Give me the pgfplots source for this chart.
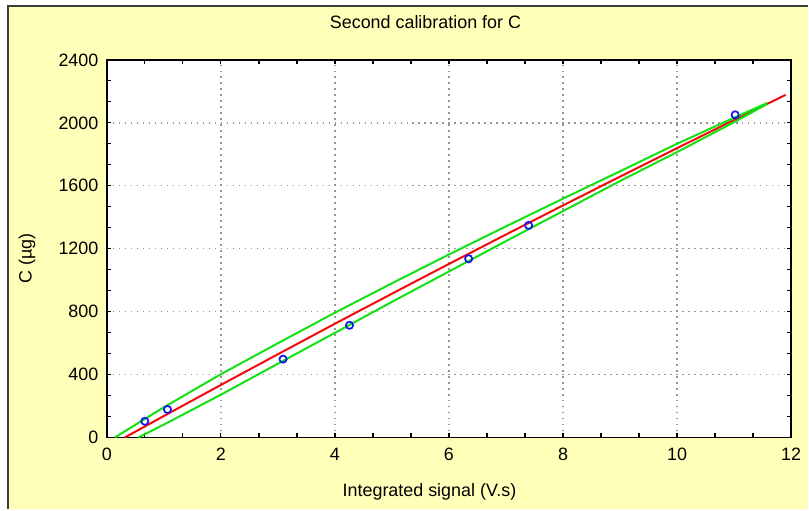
\documentclass[border=0pt]{standalone}
\usepackage{pgfplots}
\pgfplotsset{compat=1.18}
\usepackage{fontspec}
\setmainfont{Liberation Sans}
\definecolor{bgyellow}{RGB}{255,255,185}
\definecolor{framegray}{RGB}{60,60,60}
\definecolor{gridgray}{RGB}{150,150,150}
\definecolor{fitred}{RGB}{245,10,10}
\definecolor{bandgreen}{RGB}{20,225,20}
\definecolor{ptblue}{RGB}{20,20,240}
\begin{document}
\begin{tikzpicture}[x=1bp,y=1bp]
\fill[bgyellow] (0,0) rectangle (809,510);
\fill[white] (0,0) rectangle (7.3,510);
\fill[white] (0,505) rectangle (809,510);
\draw[line width=2bp, framegray] (8.3,0) -- (8.3,504) -- (809,504);
\begin{axis}[
  at={(107bp,72bp)}, anchor=south west,
  scale only axis, width=685bp, height=378bp,
  xmin=0, xmax=12, ymin=0, ymax=2400,
  xtick={0,2,...,12}, ytick={0,400,...,2400},
  minor tick num=2,
  tick pos=both, tick align=inside,
  major tick length=4bp, minor tick length=4bp,
  every tick/.style={black, line width=1.2bp},
  axis line style={black, line width=1.8bp},
  axis background/.style={fill=white},
  grid=major,
  major grid style={gridgray, line width=1.4bp, dash pattern=on 1.4bp off 4.6bp},
  /pgf/number format/1000 sep={},
  /pgf/number format/assume math mode=true,
  ticklabel style={font=\fontsize{18}{21}\selectfont},
  xticklabel style={yshift=-7bp},
  yticklabel style={xshift=-5bp},
  title={Second calibration for C},
  title style={at={(axis description cs:0.4657,1.0847)}, anchor=center, font=\fontsize{18}{21}\selectfont},
  xlabel={Integrated signal (V.s)},
  xlabel style={at={(axis description cs:0.4715,-0.1429)}, anchor=center, font=\fontsize{18}{21}\selectfont},
  ylabel={C (µg)},
  ylabel style={at={(axis description cs:-0.1168,0.4735)}, anchor=center, font=\fontsize{18}{21}\selectfont},
]
% fitted curve
\addplot[fitred, line width=2bp] coordinates {
 (0.315,0) (1,136.5) (2,334) (3,529) (4,723) (5,914) (6,1103) (7,1290)
 (8,1475) (9,1658) (10,1839) (11,2018) (11.5,2106) (11.905,2178)
};
% upper band
\addplot[bandgreen, line width=2bp] coordinates {
 (0.14,0) (1,192) (2,402) (3,599) (4,793) (5,980) (6,1163) (7,1342)
 (8,1518) (9,1692) (10,1867) (11,2032) (11.58,2126)
};
% lower band
\addplot[bandgreen, line width=2bp] coordinates {
 (0.55,0) (1,82) (2,272) (3,469) (4,665) (5,862) (6,1055) (7,1248)
 (8,1439) (9,1630) (10,1814) (11,2004) (11.58,2120)
};
% observations
\addplot[only marks, mark=o, mark size=3.6bp, ptblue, line width=1.7bp] coordinates {
 (0.666,103) (1.063,178) (3.09,498) (4.256,713) (6.345,1136) (7.397,1348) (11.02,2051)
};
\end{axis}
\end{tikzpicture}
\end{document}
